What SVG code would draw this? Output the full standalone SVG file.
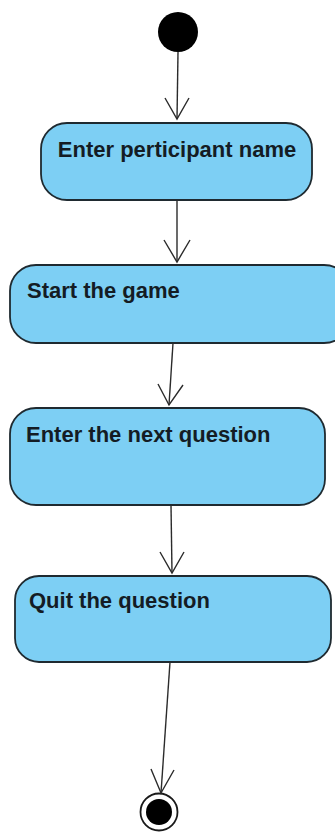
<svg xmlns="http://www.w3.org/2000/svg" width="335" height="834" viewBox="0 0 335 834">
<style>
.act{fill:#7dcff4;stroke:#1f2a30;stroke-width:1.8}
.lbl{font-family:"Liberation Sans",Arial,sans-serif;font-weight:bold;font-size:22px;fill:#141c24}
.con{fill:none;stroke:#2b2b2b;stroke-width:1.4}
.head{fill:none;stroke:#2b2b2b;stroke-width:1.4;stroke-linejoin:miter}
</style>
<rect width="335" height="834" fill="#ffffff"/>
<g id="start"><circle cx="178" cy="32" r="20" fill="#000"/></g>
<g id="n1"><rect class="act" x="41" y="123" width="271" height="77" rx="26"/><text class="lbl" x="177" y="157" text-anchor="middle">Enter perticipant name</text></g>
<g id="n2"><rect class="act" x="10" y="265" width="340" height="78" rx="26"/><text class="lbl" x="27" y="298">Start the game</text></g>
<g id="n3"><rect class="act" x="10" y="408" width="315" height="97" rx="26"/><text class="lbl" x="26" y="442">Enter the next question</text></g>
<g id="n4"><rect class="act" x="15" y="576" width="316" height="86" rx="24"/><text class="lbl" x="29" y="608">Quit the question</text></g>
<g id="end"><circle cx="159" cy="812" r="18.5" fill="#fff" stroke="#1a1a1a" stroke-width="1.8"/><circle cx="159" cy="812" r="13" fill="#000"/></g>
<g id="connectors">
<path class="con" d="M178 52 L177 119"/><path class="head" d="M165 98 L177 119 L189 98"/>
<path class="con" d="M177 200 L177 262"/><path class="head" d="M164 240 L177 262 L190 240"/>
<path class="con" d="M173 343 L169 405"/><path class="head" d="M158 384 L169 405 L183 385"/>
<path class="con" d="M171 505 L172 573"/><path class="head" d="M160 552 L172 573 L184 552"/>
<path class="con" d="M170 662 L161 793"/><path class="head" d="M151 769 L161 793 L174 770"/>
</g>
</svg>
